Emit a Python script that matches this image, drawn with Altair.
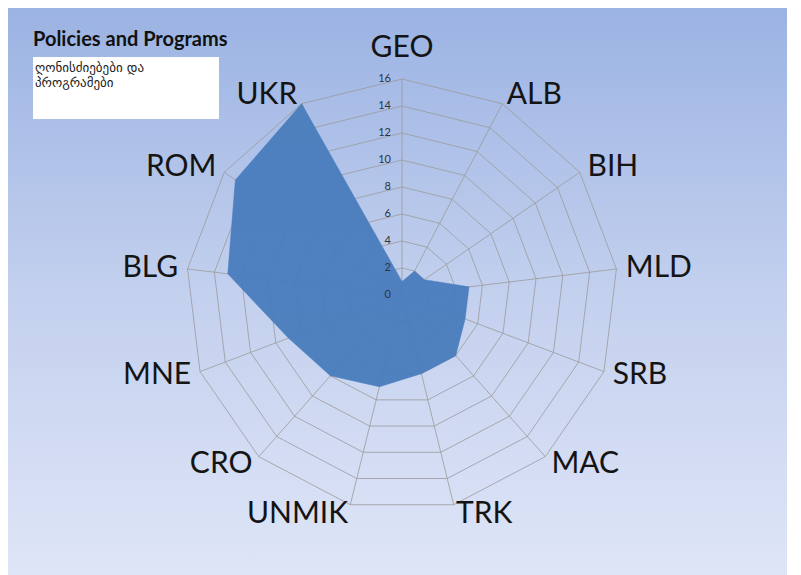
import altair as alt
import pandas as pd

# ---- data ----
categories = ["GEO", "ALB", "BIH", "MLD", "SRB", "MAC", "TRK",
              "UNMIK", "CRO", "MNE", "BLG", "ROM", "UKR"]
values = [1, 2, 2, 5, 5, 6, 6, 7, 8, 9, 13, 15, 16]
ring_levels = [2, 4, 6, 8, 10, 12, 14, 16]
tick_values = [0, 2, 4, 6, 8, 10, 12, 14, 16]
title_text = "Policies and Programs"
box_lines = ["ღონისძიებები და", "პროგრამები"]

n = len(categories)
R_MAX = max(ring_levels)
PX = 13.5  # pixels per unit
W, H = 779, 567
CX, CY = 394, 287  # centre of radar inside plot area

cat_df = pd.DataFrame({"idx": list(range(n)), "cat": categories, "value": values})
grid_df = pd.DataFrame([{"level": L, "idx": i} for L in ring_levels for i in range(n)])
tick_df = pd.DataFrame({"tick": tick_values})
dummy = pd.DataFrame({"k": [0]})

xs = alt.Scale(domain=[-CX / PX, (W - CX) / PX], nice=False, zero=False)
ys = alt.Scale(domain=[-(H - CY) / PX, CY / PX], nice=False, zero=False)
ANG = f"(2*PI*datum.idx/{n})"


def X(f):
    return alt.X(f, type="quantitative", scale=xs, axis=None)


def Y(f):
    return alt.Y(f, type="quantitative", scale=ys, axis=None)


bg = alt.Chart(dummy).mark_rect(
    color=alt.Gradient(
        gradient="linear",
        stops=[alt.GradientStop(color="#9bb3e3", offset=0),
               alt.GradientStop(color="#c3d0ee", offset=0.5),
               alt.GradientStop(color="#dee5f7", offset=1)],
        x1=0, x2=0, y1=0, y2=1,
    )
).encode(x=alt.value(0), x2=alt.value(W), y=alt.value(0), y2=alt.value(H))

grid = alt.Chart(grid_df).transform_calculate(
    x=f"datum.level*sin({ANG})", y=f"datum.level*cos({ANG})"
).mark_line(interpolate="linear-closed", color="#9a9a9a", strokeWidth=0.8).encode(
    x=X("x"), y=Y("y"), detail="level:N", order="idx:Q"
)

spokes = alt.Chart(cat_df).transform_calculate(
    x0="0", y0="0", x=f"{R_MAX}*sin({ANG})", y=f"{R_MAX}*cos({ANG})"
).mark_rule(color="#9a9a9a", strokeWidth=0.8).encode(
    x=X("x0"), y=Y("y0"), x2="x:Q", y2="y:Q"
)

poly = alt.Chart(cat_df).transform_calculate(
    x=f"datum.value*sin({ANG})", y=f"datum.value*cos({ANG})"
).mark_line(
    interpolate="linear-closed", fill="#4a7dbc", fillOpacity=0.96,
    stroke="#4a7dbc", strokeOpacity=0.96, strokeWidth=0.5
).encode(x=X("x"), y=Y("y"), order="idx:Q")

ticks = alt.Chart(tick_df).transform_calculate(x="0").mark_text(
    align="right", baseline="middle", dx=-11, fontSize=11, font="Lato", color="#2f3440"
).encode(x=X("x"), y=Y("tick"), text="tick:Q")

LR = R_MAX + 0.7
lab = alt.Chart(cat_df).transform_calculate(
    lx=f"{LR}*sin({ANG})", ly=f"{LR}*cos({ANG})"
)
lab_style = dict(fontSize=30, font="Lato", color="#141414")
lab_r = lab.transform_filter(f"datum.idx >= 1 && datum.idx <= {n // 2}").mark_text(
    align="left", baseline="middle", **lab_style
).encode(x=X("lx"), y=Y("ly"), text="cat:N")
lab_l = lab.transform_filter(f"datum.idx > {n // 2}").mark_text(
    align="right", baseline="middle", **lab_style
).encode(x=X("lx"), y=Y("ly"), text="cat:N")
lab_top = alt.Chart(cat_df).transform_filter("datum.idx == 0").transform_calculate(
    lx="0", ly=f"{R_MAX} + 22/{PX}"
).mark_text(align="center", baseline="alphabetic", **lab_style).encode(
    x=X("lx"), y=Y("ly"), text="cat:N"
)

title = alt.Chart(dummy).mark_text(
    text=title_text, align="left", baseline="alphabetic", fontSize=20,
    fontWeight="bold", font="Lato", color="#111111"
).encode(x=alt.value(25), y=alt.value(38))

box = alt.Chart(dummy).mark_rect(color="white").encode(
    x=alt.value(25), x2=alt.value(211), y=alt.value(49), y2=alt.value(111)
)

box_text = alt.Chart(dummy).mark_text(
    text=box_lines, align="left", baseline="alphabetic", fontSize=13,
    lineHeight=15, font="DejaVu Sans", color="#222222"
).encode(x=alt.value(27), y=alt.value(64))

chart = alt.layer(
    bg, grid, spokes, poly, ticks, lab_r, lab_l, lab_top, title, box, box_text
).properties(
    width=W, height=H, autosize="none", padding=0
).configure_view(strokeWidth=0)

chart.save("out.html", embed_options={"renderer": "svg", "actions": False})
